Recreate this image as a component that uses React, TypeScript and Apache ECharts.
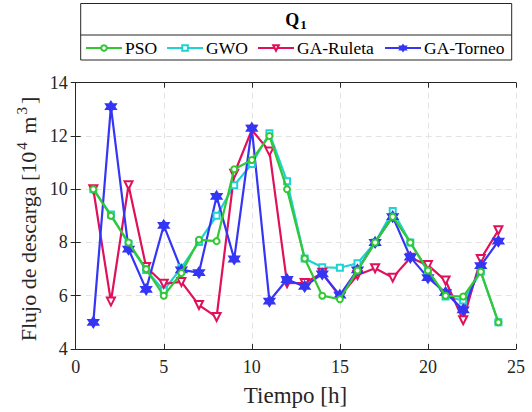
import React, { useEffect, useRef } from "react";
import * as echarts from "echarts";

const hours = [1,2,3,4,5,6,7,8,9,10,11,12,13,14,15,16,17,18,19,20,21,22,23,24];
const pso = [10.0,9.0,8.0,7.0,6.0,6.85,8.1,8.05,10.75,11.1,12.0,10.0,7.4,6.0,5.87,6.95,8.0,8.97,8.0,6.95,6.0,5.97,6.9,5.0];
const gwo = [10.0,9.05,7.95,6.97,6.2,7.05,8.02,9.0,10.15,10.95,12.1,10.3,7.4,7.07,7.05,7.22,8.0,9.18,8.0,6.9,5.97,5.82,6.9,5.0];
const gaRuleta = [10.0,5.78,10.15,7.08,6.45,6.52,5.65,5.2,10.58,12.23,11.42,6.47,6.48,6.86,5.97,6.78,7.03,6.68,7.43,7.15,6.57,5.08,7.38,8.46];
const gaTorneo = [5.0,13.1,7.75,6.24,8.64,6.97,6.87,9.73,7.38,12.29,5.8,6.61,6.35,6.82,6.02,6.97,8.0,8.97,7.45,6.68,6.12,5.47,7.13,8.05];
const seriesNames = ["PSO", "GWO", "GA-Ruleta", "GA-Torneo"];
const xTicks = { min: 0, max: 25, interval: 5 };
const yTicks = { min: 4, max: 14, interval: 2 };

const FONT = "Liberation Serif";
const AX = "#262626";
const HEX = "path://M0,-10L2.887,-5L8.66,-5L5.774,0L8.66,5L2.887,5L0,10L-2.887,5L-8.66,5L-5.774,0L-8.66,-5L-2.887,-5Z";

export default function App() {
  const ref = useRef<HTMLDivElement>(null);
  useEffect(() => {
    if (!ref.current) return;
    const chart = echarts.init(ref.current, null, { renderer: "svg" });
    const pair = (arr: number[]) => hours.map((h, i) => [h, arr[i]]);
    const colors = ["#33c833", "#1ed3d3", "#e0105a", "#3535f5"];
    const symbols = ["emptyCircle", "emptyRect", "emptyTriangle", HEX];
    const sizes = [6, 6, 8, 10];
    const rotates = [0, 0, 180, 0];
    const datas = [pso, gwo, gaRuleta, gaTorneo];
    const series = seriesNames.map((name, i) => ({
      name,
      type: "line",
      xAxisIndex: 0,
      yAxisIndex: 0,
      data: pair(datas[i]),
      symbol: symbols[i],
      symbolSize: sizes[i],
      symbolRotate: rotates[i],
      showAllSymbol: true,
      lineStyle: { color: colors[i], width: 2.2 },
      itemStyle: { color: colors[i], borderColor: colors[i], borderWidth: 1.8 },
      z: 2 + (i === 0 ? 1 : 0),
    }));
    const legendLefts = [85, 166, 257, 384];
    const legends = seriesNames.map((name, i) => ({
      data: [name],
      left: legendLefts[i],
      top: 39,
      padding: 0,
      itemWidth: 36,
      itemHeight: 7,
      itemGap: 0,
      formatter: "{a|{name}}",
      textStyle: {
        padding: [0, 0, 0, -2],
        rich: { a: { fontFamily: FONT, fontSize: 17.5, color: "#000" } },
      },
      selectedMode: false,
    }));
    const baseAxis = {
      axisLine: { show: true, lineStyle: { color: AX, width: 1 } },
      axisTick: { show: true, inside: true, length: 5, lineStyle: { color: AX, width: 1 } },
    };
    const tickLabel = (margin: number) => ({
      margin,
      formatter: "{a|{value}}",
      rich: { a: { fontFamily: FONT, fontSize: 18, color: AX } },
    });
    chart.setOption({
      animation: false,
      backgroundColor: "#fff",
      color: colors,
      textStyle: { fontFamily: FONT },
      grid: { left: 75.7, right: 16, top: 82.7, bottom: 63, containLabel: false },
      legend: legends,
      xAxis: [
        {
          type: "value", ...xTicks, position: "bottom", ...baseAxis,
          axisLabel: tickLabel(9),
          splitLine: { show: true, lineStyle: { color: "#e3e3e3", type: [6, 4], width: 1 } },
        },
        {
          type: "value", ...xTicks, position: "top", ...baseAxis,
          axisLabel: { show: false }, splitLine: { show: false },
        },
      ],
      yAxis: [
        {
          type: "value", ...yTicks, position: "left", ...baseAxis,
          axisLabel: tickLabel(8),
          splitLine: { show: true, lineStyle: { color: "#e3e3e3", type: [6, 4], width: 1 } },
        },
        {
          type: "value", ...yTicks, position: "right", ...baseAxis,
          axisLabel: { show: false }, splitLine: { show: false },
        },
      ],
      graphic: [
        {
          type: "rect", shape: { x: 80.7, y: 3.5, width: 431, height: 56.5 },
          style: { fill: "#fff", stroke: AX, lineWidth: 1 }, z: -1, silent: true,
        },
        {
          type: "line", shape: { x1: 80.7, y1: 35, x2: 511.7, y2: 35 },
          style: { stroke: AX, lineWidth: 1 }, silent: true,
        },
        {
          type: "text", x: 296, y: 20,
          style: {
            text: "{q|Q}{s|1}", align: "center", verticalAlign: "middle",
            rich: {
              q: { fontFamily: FONT, fontSize: 18, fontWeight: "bold", fill: "#000" },
              s: { fontFamily: FONT, fontSize: 13, fontWeight: "bold", fill: "#000", padding: [9, 0, 0, 1] },
            },
          },
        },
        {
          type: "text", x: 295.5, y: 395,
          style: {
            text: "{t|Tiempo [h]}", align: "center", verticalAlign: "middle",
            rich: { t: { fontFamily: FONT, fontSize: 23, fill: AX } },
          },
        },
        {
          type: "text", x: 28, y: 219, rotation: Math.PI / 2,
          style: {
            text: "{t|Flujo de descarga [10}{p|4}{t| m}{p|3}{t|]}", align: "center", verticalAlign: "middle",
            rich: {
              t: { fontFamily: FONT, fontSize: 22, fill: AX },
              p: { fontFamily: FONT, fontSize: 15, fill: AX, padding: [0, 3, 12, 2] },
            },
          },
        },
      ],
      series,
    });
    return () => chart.dispose();
  }, []);
  return (
    <div
      ref={ref}
      style={{ position: "fixed", left: 0, top: 0, width: 532, height: 412 }}
    />
  );
}
